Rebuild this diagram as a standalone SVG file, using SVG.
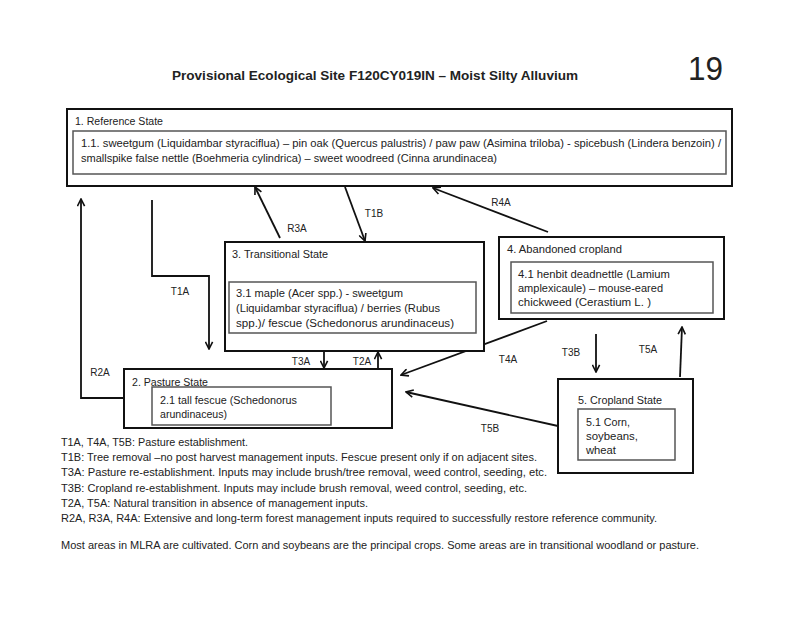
<svg xmlns="http://www.w3.org/2000/svg" width="800" height="617" viewBox="0 0 800 617">
<style>
  text { font-family: "Liberation Sans", Arial, sans-serif; fill: #222; }
  .title { font-size: 13px; font-weight: bold; }
  .page { font-size: 34px; }
  .t { font-size: 10px; }
  .lbl { font-size: 10px; text-anchor: middle; }
  .leg { font-size: 11px; }
  .outer { fill: #fff; stroke: #111; stroke-width: 2; }
  .inner { fill: #fff; stroke: #555; stroke-width: 1.5; }
  .conn { fill: none; stroke: #111; stroke-width: 1.8; }
</style>
<defs>
  <marker id="arr" viewBox="0 0 10 10" refX="9" refY="5" markerWidth="9" markerHeight="9" markerUnits="userSpaceOnUse" orient="auto">
    <polyline points="1,1 9,5 1,9" fill="none" stroke="#111" stroke-width="1.8"/>
  </marker>
</defs>
<rect width="800" height="617" fill="#fff"/>

<text class="title" x="172" y="80" textLength="406" lengthAdjust="spacingAndGlyphs">Provisional Ecological Site F120CY019IN – Moist Silty Alluvium</text>
<text class="page" x="688" y="80" textLength="35" lengthAdjust="spacingAndGlyphs">19</text>

<g id="connectors">
  <polyline class="conn" points="152,200 152,276 209,276 209,349" marker-end="url(#arr)"/>
  <polyline class="conn" points="124,398 81,398 81,199" marker-end="url(#arr)"/>
  <line class="conn" x1="280" y1="238" x2="255" y2="187" marker-end="url(#arr)"/>
  <line class="conn" x1="345" y1="187" x2="365" y2="241" marker-end="url(#arr)"/>
  <line class="conn" x1="548" y1="232" x2="433" y2="188" marker-end="url(#arr)"/>
  <line class="conn" x1="324" y1="351" x2="324" y2="368" marker-end="url(#arr)"/>
  <line class="conn" x1="378" y1="372" x2="378" y2="352" marker-end="url(#arr)"/>
  <line class="conn" x1="547" y1="321" x2="401" y2="375" marker-end="url(#arr)"/>
  <line class="conn" x1="596" y1="334" x2="596" y2="372" marker-end="url(#arr)"/>
  <line class="conn" x1="680" y1="377" x2="682" y2="327" marker-end="url(#arr)"/>
  <line class="conn" x1="558" y1="426" x2="406" y2="392" marker-end="url(#arr)"/>
  <text class="lbl" x="374" y="217">T1B</text>
  <text class="lbl" x="297" y="232">R3A</text>
  <text class="lbl" x="501" y="206">R4A</text>
  <text class="lbl" x="180" y="295">T1A</text>
  <text class="lbl" x="100" y="376">R2A</text>
  <text class="lbl" x="301" y="365">T3A</text>
  <text class="lbl" x="362" y="365">T2A</text>
  <text class="lbl" x="508" y="363">T4A</text>
  <text class="lbl" x="571" y="356">T3B</text>
  <text class="lbl" x="648" y="353">T5A</text>
  <text class="lbl" x="490" y="432">T5B</text>
</g>

<g id="reference-state">
  <rect class="outer" x="67" y="109" width="665" height="77"/>
  <text class="t" x="75" y="125" textLength="88" lengthAdjust="spacingAndGlyphs">1. Reference State</text>
  <rect class="inner" x="73" y="131" width="653" height="43"/>
  <text class="t" x="81" y="147" textLength="640" lengthAdjust="spacingAndGlyphs">1.1.  sweetgum (Liquidambar styraciflua) – pin oak (Quercus palustris) / paw paw (Asimina triloba) - spicebush (Lindera benzoin) /</text>
  <text class="t" x="81" y="162" textLength="416" lengthAdjust="spacingAndGlyphs">smallspike false nettle (Boehmeria cylindrica) – sweet woodreed (Cinna arundinacea)</text>
</g>

<g id="transitional-state">
  <rect class="outer" x="225" y="242" width="259" height="109"/>
  <text class="t" x="232" y="258" textLength="96" lengthAdjust="spacingAndGlyphs">3. Transitional State</text>
  <rect class="inner" x="229" y="282" width="247" height="51"/>
  <text class="t" x="236" y="297" textLength="167" lengthAdjust="spacingAndGlyphs">3.1  maple (Acer spp.) - sweetgum</text>
  <text class="t" x="236" y="312" textLength="204" lengthAdjust="spacingAndGlyphs">(Liquidambar styraciflua) / berries (Rubus</text>
  <text class="t" x="236" y="327" textLength="218" lengthAdjust="spacingAndGlyphs">spp.)/ fescue (Schedonorus arundinaceus)</text>
</g>

<g id="abandoned-cropland">
  <rect class="outer" x="499" y="237" width="225" height="82"/>
  <text class="t" x="507" y="253" textLength="115" lengthAdjust="spacingAndGlyphs">4. Abandoned cropland</text>
  <rect class="inner" x="511" y="262" width="202" height="51"/>
  <text class="t" x="518" y="278" textLength="152" lengthAdjust="spacingAndGlyphs">4.1 henbit deadnettle (Lamium</text>
  <text class="t" x="518" y="292" textLength="145" lengthAdjust="spacingAndGlyphs">amplexicaule) – mouse-eared</text>
  <text class="t" x="518" y="306" textLength="133" lengthAdjust="spacingAndGlyphs">chickweed (Cerastium L. )</text>
</g>

<g id="pasture-state">
  <rect class="outer" x="124" y="369" width="268" height="59"/>
  <text class="t" x="132" y="386" textLength="76" lengthAdjust="spacingAndGlyphs">2. Pasture State</text>
  <rect class="inner" x="152" y="387" width="179" height="38"/>
  <text class="t" x="160" y="404" textLength="137" lengthAdjust="spacingAndGlyphs">2.1 tall fescue (Schedonorus</text>
  <text class="t" x="160" y="418" textLength="67" lengthAdjust="spacingAndGlyphs">arundinaceus)</text>
</g>

<g id="cropland-state">
  <rect class="outer" x="558" y="379" width="135" height="94"/>
  <text class="t" x="578" y="404" textLength="84" lengthAdjust="spacingAndGlyphs">5. Cropland State</text>
  <rect class="inner" x="578" y="409" width="97" height="51"/>
  <text class="t" x="586" y="426" textLength="44" lengthAdjust="spacingAndGlyphs">5.1 Corn,</text>
  <text class="t" x="586" y="440" textLength="52" lengthAdjust="spacingAndGlyphs">soybeans,</text>
  <text class="t" x="586" y="454" textLength="30" lengthAdjust="spacingAndGlyphs">wheat</text>
</g>

<g id="legend">
  <text class="leg" x="61" y="446" textLength="187" lengthAdjust="spacingAndGlyphs">T1A, T4A, T5B: Pasture establishment.</text>
  <text class="leg" x="61" y="461" textLength="476" lengthAdjust="spacingAndGlyphs">T1B: Tree removal –no post harvest management inputs. Fescue present only if on adjacent sites.</text>
  <text class="leg" x="61" y="476" textLength="486" lengthAdjust="spacingAndGlyphs">T3A: Pasture re-establishment.  Inputs may include brush/tree removal, weed control, seeding, etc.</text>
  <text class="leg" x="61" y="492" textLength="466" lengthAdjust="spacingAndGlyphs">T3B: Cropland re-establishment. Inputs may include brush removal, weed control, seeding, etc.</text>
  <text class="leg" x="61" y="507" textLength="307" lengthAdjust="spacingAndGlyphs">T2A, T5A: Natural transition in absence of management inputs.</text>
  <text class="leg" x="61" y="522" textLength="596" lengthAdjust="spacingAndGlyphs">R2A, R3A, R4A: Extensive and long-term forest management inputs required to successfully restore reference community.</text>
  <text class="leg" x="61" y="549" textLength="638" lengthAdjust="spacingAndGlyphs">Most areas in MLRA are cultivated. Corn and soybeans are the principal crops. Some areas are in transitional woodland or pasture.</text>
</g>
</svg>
